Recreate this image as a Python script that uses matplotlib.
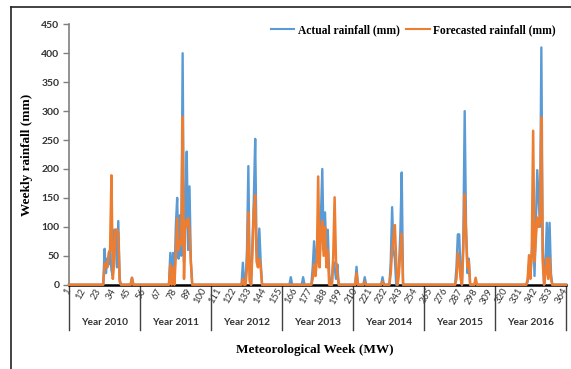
import numpy as np
import matplotlib
matplotlib.use('Agg')
import matplotlib.pyplot as plt
from matplotlib import transforms
from matplotlib.lines import Line2D

# Weekly rainfall, only the non-zero weeks (all other weeks are 0)
actual_weeks = [27, 28, 29, 30, 31, 32, 33, 34, 35, 36, 37, 38, 47,
                75, 76, 77, 78, 79, 80, 81, 82, 83, 84, 85, 86, 87, 88, 89, 90,
                128, 130, 131, 132, 133, 135, 136, 137, 138, 139, 140, 141,
                163, 172, 179, 180, 181, 182, 183, 184, 185, 186, 187, 188, 189, 190, 191, 194, 195, 196, 197,
                211, 217, 230, 236, 237, 238, 239, 242, 243, 244,
                284, 285, 286, 287, 289, 290, 291, 292, 293, 298,
                336, 337, 338, 339, 340, 341, 342, 343, 344, 345, 346, 347, 349, 350, 351, 352, 353]
actual_vals = [62, 20, 45, 35, 60, 25, 15, 95, 95, 30, 110, 10, 12,
               55, 10, 55, 5, 100, 150, 45, 120, 50, 400, 40, 120, 230, 60, 170, 40,
               38, 5, 60, 205, 10, 70, 150, 252, 60, 40, 97, 40,
               13, 13, 30, 75, 20, 60, 100, 40, 120, 200, 60, 125, 40, 95, 20, 40, 30, 10, 35,
               31, 13, 13, 40, 134, 60, 45, 30, 90, 194,
               30, 87, 87, 20, 80, 300, 100, 20, 45, 3,
               5, 35, 20, 50, 118, 15, 110, 198, 150, 100, 410, 60, 40, 107, 30, 107, 20]

forecast_weeks = [27, 28, 29, 30, 31, 32, 33, 34, 35, 36, 37, 38, 47,
                  75, 77, 79, 80, 81, 82, 83, 84, 85, 86, 87, 88, 89, 90,
                  128, 131, 132, 133, 135, 136, 137, 138, 139, 140, 141,
                  179, 180, 181, 182, 183, 184, 185, 186, 187, 188, 189, 190, 194, 195, 196, 197,
                  211, 217, 230, 236, 237, 238, 239, 240, 242, 243, 244,
                  284, 285, 286, 287, 289, 290, 291, 292, 293, 298,
                  336, 337, 338, 339, 340, 341, 342, 343, 344, 345, 346, 347, 349, 350, 351, 352, 353]
forecast_vals = [35, 38, 30, 55, 60, 189, 10, 40, 95, 95, 90, 5, 12,
                 35, 30, 50, 115, 60, 75, 70, 290, 10, 110, 100, 115, 95, 40,
                 10, 30, 125, 5, 60, 130, 155, 40, 30, 45, 30,
                 10, 35, 15, 40, 187, 30, 90, 110, 50, 100, 30, 60, 50, 151, 40, 20,
                 20, 5, 5, 20, 60, 80, 103, 40, 20, 60, 88,
                 10, 55, 40, 10, 60, 156, 90, 30, 40, 12,
                 10, 51, 10, 60, 266, 40, 80, 116, 100, 110, 289, 40, 20, 46, 10, 46, 10]

years = ['Year 2010', 'Year 2011', 'Year 2012', 'Year 2013', 'Year 2014', 'Year 2015', 'Year 2016']
n_weeks = 364
week_ticks = list(range(1, 365, 11))

weeks = np.arange(1, n_weeks + 1)
actual = np.zeros(n_weeks)
actual[np.array(actual_weeks) - 1] = actual_vals
forecast = np.zeros(n_weeks)
forecast[np.array(forecast_weeks) - 1] = forecast_vals

blue = '#5B9BD5'
orange = '#ED7D31'
tickfont = 'Lato'
serif = 'Liberation Serif'

fig = plt.figure(figsize=(5.71, 3.69), dpi=100)
ax = fig.add_axes([69/571, 1 - 284.7/369, 497/571, 260.4/369])

ax.plot(weeks, actual, color=blue, lw=1.7, zorder=3, clip_on=False)
ax.plot(weeks, forecast, color=orange, lw=1.8, zorder=4, clip_on=False)

ax.set_xlim(1, n_weeks)
ax.set_ylim(0, 450)
ax.set_yticks(range(0, 451, 50))
ax.set_xticks(week_ticks)
ax.set_xticklabels([str(w) for w in week_ticks], rotation=60, ha='right', va='center',
                   rotation_mode='anchor', fontsize=6.8, family=tickfont, color='#333333')
ax.tick_params(axis='x', length=0, pad=3)
ax.tick_params(axis='y', direction='out', length=4, width=1, color='#7f7f7f',
               labelsize=7.5, pad=3)
for lab in ax.get_yticklabels():
    lab.set_family(tickfont)
    lab.set_fontweight('bold')
    lab.set_color('#333333')

for side in ['top', 'right']:
    ax.spines[side].set_visible(False)
ax.spines['left'].set_color('#7f7f7f')
ax.spines['left'].set_linewidth(1.2)
ax.spines['bottom'].set_color('black')
ax.spines['bottom'].set_linewidth(1.8)
ax.spines['bottom'].set_zorder(2)

# year separators and year labels under the week labels
trans = transforms.blended_transform_factory(ax.transData, ax.transAxes)
bounds = [1, 52.5, 104.5, 156.5, 208.5, 260.5, 312.5, 364]
for b in bounds:
    ax.plot([b, b], [0, -0.174], color='#404040', lw=1, transform=trans, clip_on=False)
for i, name in enumerate(years):
    ax.text((bounds[i] + bounds[i + 1]) / 2, -0.147, name, transform=trans, ha='center', va='center',
            fontsize=7.3, family=tickfont, fontweight='bold', color='#333333')

ax.set_ylabel('Weekly rainfall (mm)', family=serif, fontweight='bold', fontsize=9.5, labelpad=6)
fig.text(315/571, 1 - 350/369, 'Meteorological Week (MW)', ha='center', va='center',
         family=serif, fontweight='bold', fontsize=9.5)

handles = [Line2D([], [], color=blue, lw=1.5), Line2D([], [], color=orange, lw=1.5)]
ax.legend(handles, ['Actual rainfall (mm)', 'Forecasted rainfall (mm)'], ncol=2, frameon=False,
          loc='upper right', bbox_to_anchor=(1.0, 1.04), handlelength=2.0, handletextpad=0.3,
          columnspacing=0.6, prop={'family': serif, 'weight': 'bold', 'size': 8.3})

# outer frame (partly cropped in the reference)
fig.add_artist(Line2D([11/571, 1], [1 - 7/369, 1 - 7/369], color='#222222', lw=1.2))
fig.add_artist(Line2D([11/571, 11/571], [0, 1 - 7/369], color='#222222', lw=1.2))

fig.savefig('out.png', dpi=100)
